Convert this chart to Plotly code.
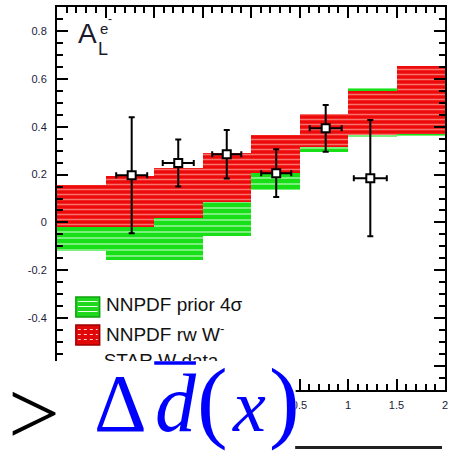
import plotly.graph_objects as go

# ---------------- data ----------------
bin_centers = [-1.75, -1.25, -0.75, -0.25, 0.25, 0.75, 1.25, 1.75]
bin_width = 0.5
prior_low = [-0.119, -0.157, -0.157, -0.057, 0.135, 0.294, 0.355, 0.361]
prior_high = [0.150, 0.190, 0.220, 0.280, 0.360, 0.450, 0.561, 0.650]
rw_low = [-0.019, -0.019, 0.018, 0.085, 0.206, 0.315, 0.365, 0.369]
rw_high = [0.156, 0.194, 0.229, 0.292, 0.365, 0.453, 0.551, 0.653]

star_eta = [-1.23, -0.75, -0.25, 0.26, 0.77, 1.23]
star_eta_err = [0.16, 0.16, 0.15, 0.155, 0.165, 0.17]
star_AL = [0.197, 0.248, 0.285, 0.206, 0.393, 0.185]
star_err = [0.242, 0.098, 0.101, 0.100, 0.098, 0.243]

y_tickvals = [-0.6, -0.4, -0.2, 0, 0.2, 0.4, 0.6, 0.8]
y_ticktext = ["-0.6", "-0.4", "-0.2", "0", "0.2", "0.4", "0.6", "0.8"]
x_tickvals = [-2, -1.5, -1, -0.5, 0, 0.5, 1, 1.5, 2]
x_ticktext = ["-2", "-1.5", "-1", "-0.5", "0", "0.5", "1", "1.5", "2"]

legend_labels = ["NNPDF prior 4σ", "NNPDF rw W<sup>-</sup>", "STAR W data"]

# ---------------- layout geometry ----------------
W, H = 452, 451
L, R, T, B = 57, 4, 7, 61
PW, PH = W - L - R, H - T - B


def px2x(px):
    return (px - L) / PW


def py2y(py):
    return (H - B - py) / PH


XR = [-2, 2]
YR = [-0.7, 0.9]


def px2data(px):
    return XR[0] + (px - L) / PW * (XR[1] - XR[0])


def py2data(py):
    return YR[1] - (py - T) / PH * (YR[1] - YR[0])


fig = go.Figure()

fig.add_trace(go.Bar(
    x=bin_centers,
    y=[h - l for h, l in zip(prior_high, prior_low)],
    base=prior_low,
    width=bin_width,
    name="NNPDF prior 4σ",
    marker=dict(color="#18e018", line=dict(width=0),
                pattern=dict(shape="-", bgcolor="#18e018", fgcolor="#f4fff4",
                             size=6, solidity=0.3)),
    showlegend=False,
))
fig.add_trace(go.Bar(
    x=bin_centers,
    y=[h - l for h, l in zip(rw_high, rw_low)],
    base=rw_low,
    width=bin_width,
    name="NNPDF rw W-",
    marker=dict(color="#ee0a0a", line=dict(width=0),
                pattern=dict(shape="-", bgcolor="#ee0a0a", fgcolor="#ffd8d0",
                             size=5, solidity=0.3)),
    showlegend=False,
))
fig.add_trace(go.Scatter(
    x=star_eta, y=star_AL, mode="markers",
    name="STAR W data",
    marker=dict(symbol="square", size=8, color="white",
                line=dict(color="black", width=2)),
    error_y=dict(type="data", array=star_err, color="black", thickness=2, width=3),
    error_x=dict(type="data", array=star_eta_err, color="black", thickness=2, width=3),
    showlegend=False,
))
# third legend label (partly hidden by the overlay)
fig.add_trace(go.Scatter(
    x=[px2data(104)], y=[py2data(362)], mode="text",
    text=[legend_labels[2]], textposition="middle right",
    textfont=dict(family="Liberation Sans, Arial", size=19, color="#111"),
    showlegend=False, hoverinfo="skip",
))

axis_common = dict(
    showline=True, linecolor="black", linewidth=2, mirror="ticks",
    ticks="inside", ticklen=11, tickwidth=2, tickcolor="black",
    showgrid=False, zeroline=False,
    tickfont=dict(family="Liberation Sans, Arial", size=11, color="#1a1a3a"),
)
fig.update_xaxes(range=XR, tickmode="array", tickvals=x_tickvals, ticktext=x_ticktext,
                 minor=dict(dtick=0.1, tick0=0, ticks="inside", ticklen=6, tickwidth=2,
                            tickcolor="black"),
                 ticklabelstandoff=4, **axis_common)
fig.update_yaxes(range=YR, tickmode="array", tickvals=y_tickvals, ticktext=y_ticktext,
                 minor=dict(dtick=0.05, tick0=0, ticks="inside", ticklen=6, tickwidth=2,
                            tickcolor="black"),
                 ticklabelstandoff=6, **axis_common)

shapes = []
# legend swatches
shapes.append(dict(type="rect", xref="paper", yref="paper", layer="above",
                   x0=px2x(76), x1=px2x(100), y0=py2y(317), y1=py2y(297),
                   fillcolor="#1ed81e", line=dict(color="#11a011", width=1.5)))
for yy in (301.5, 306.5, 311.5):
    shapes.append(dict(type="line", xref="paper", yref="paper", layer="above",
                       x0=px2x(78), x1=px2x(98), y0=py2y(yy), y1=py2y(yy),
                       line=dict(color="#e8ffe8", width=1)))
shapes.append(dict(type="rect", xref="paper", yref="paper", layer="above",
                   x0=px2x(76), x1=px2x(100), y0=py2y(345), y1=py2y(325),
                   fillcolor="#e00808", line=dict(color="#a00000", width=1.5)))
for yy in (329.5, 334.5, 339.5):
    shapes.append(dict(type="line", xref="paper", yref="paper", layer="above",
                       x0=px2x(78), x1=px2x(98), y0=py2y(yy), y1=py2y(yy),
                       line=dict(color="#ffd0d0", width=1, dash="dot")))
# white overlay region
shapes.append(dict(type="rect", xref="paper", yref="paper", layer="above",
                   x0=px2x(-10), x1=px2x(297.5), y0=py2y(470), y1=py2y(361),
                   fillcolor="white", line=dict(width=0)))
# bottom-right frame line of the overlay image
shapes.append(dict(type="line", xref="paper", yref="paper", layer="above",
                   x0=px2x(297), x1=px2x(445), y0=py2y(447.5), y1=py2y(447.5),
                   line=dict(color="#222", width=3)))
# bar over d
shapes.append(dict(type="line", xref="paper", yref="paper", layer="above",
                   x0=px2x(155), x1=px2x(197), y0=py2y(363), y1=py2y(363),
                   line=dict(color="#0000ff", width=3.5)))

annotations = []
sans = "Liberation Sans, Arial"
serif = "Liberation Serif, Times New Roman"


def ann(text, cx, cy, size, family, color, xanchor="center"):
    annotations.append(dict(text=text, x=px2x(cx), y=py2y(cy), xref="paper", yref="paper",
                            xanchor=xanchor, yanchor="middle", showarrow=False,
                            font=dict(family=family, size=size, color=color)))


# A_L^{e-}
ann("A", 87.5, 33, 28, sans, "#1a1a2a")
ann("L", 103.5, 49, 18, sans, "#1a1a2a")
ann("e", 104, 29, 15, sans, "#1a1a2a")
ann("-", 110.5, 19, 12, sans, "#1a1a2a")
# legend labels
ann(legend_labels[0], 104, 304, 19, sans, "#111", xanchor="left")
ann(legend_labels[1], 104, 333, 19, sans, "#111", xanchor="left")
# overlay formula (baseline ~431 px)
ann(">", 34, 413, 92, serif, "black")
ann("Δ", 121, 403, 82, serif, "#0000ff")
ann("<i>d</i>", 177, 403, 82, serif, "#0000ff")
ann("(", 214, 400, 92, serif, "#0000ff")
ann("<i>x</i>", 250, 406, 74, serif, "#0000ff")
ann(")", 286, 400, 92, serif, "#0000ff")

fig.update_layout(
    width=W, height=H, autosize=False,
    margin=dict(l=L, r=R, t=T, b=B),
    paper_bgcolor="white", plot_bgcolor="white",
    barmode="overlay", bargap=0,
    shapes=shapes, annotations=annotations,
    showlegend=False,
)

fig.write_html("out.html")
